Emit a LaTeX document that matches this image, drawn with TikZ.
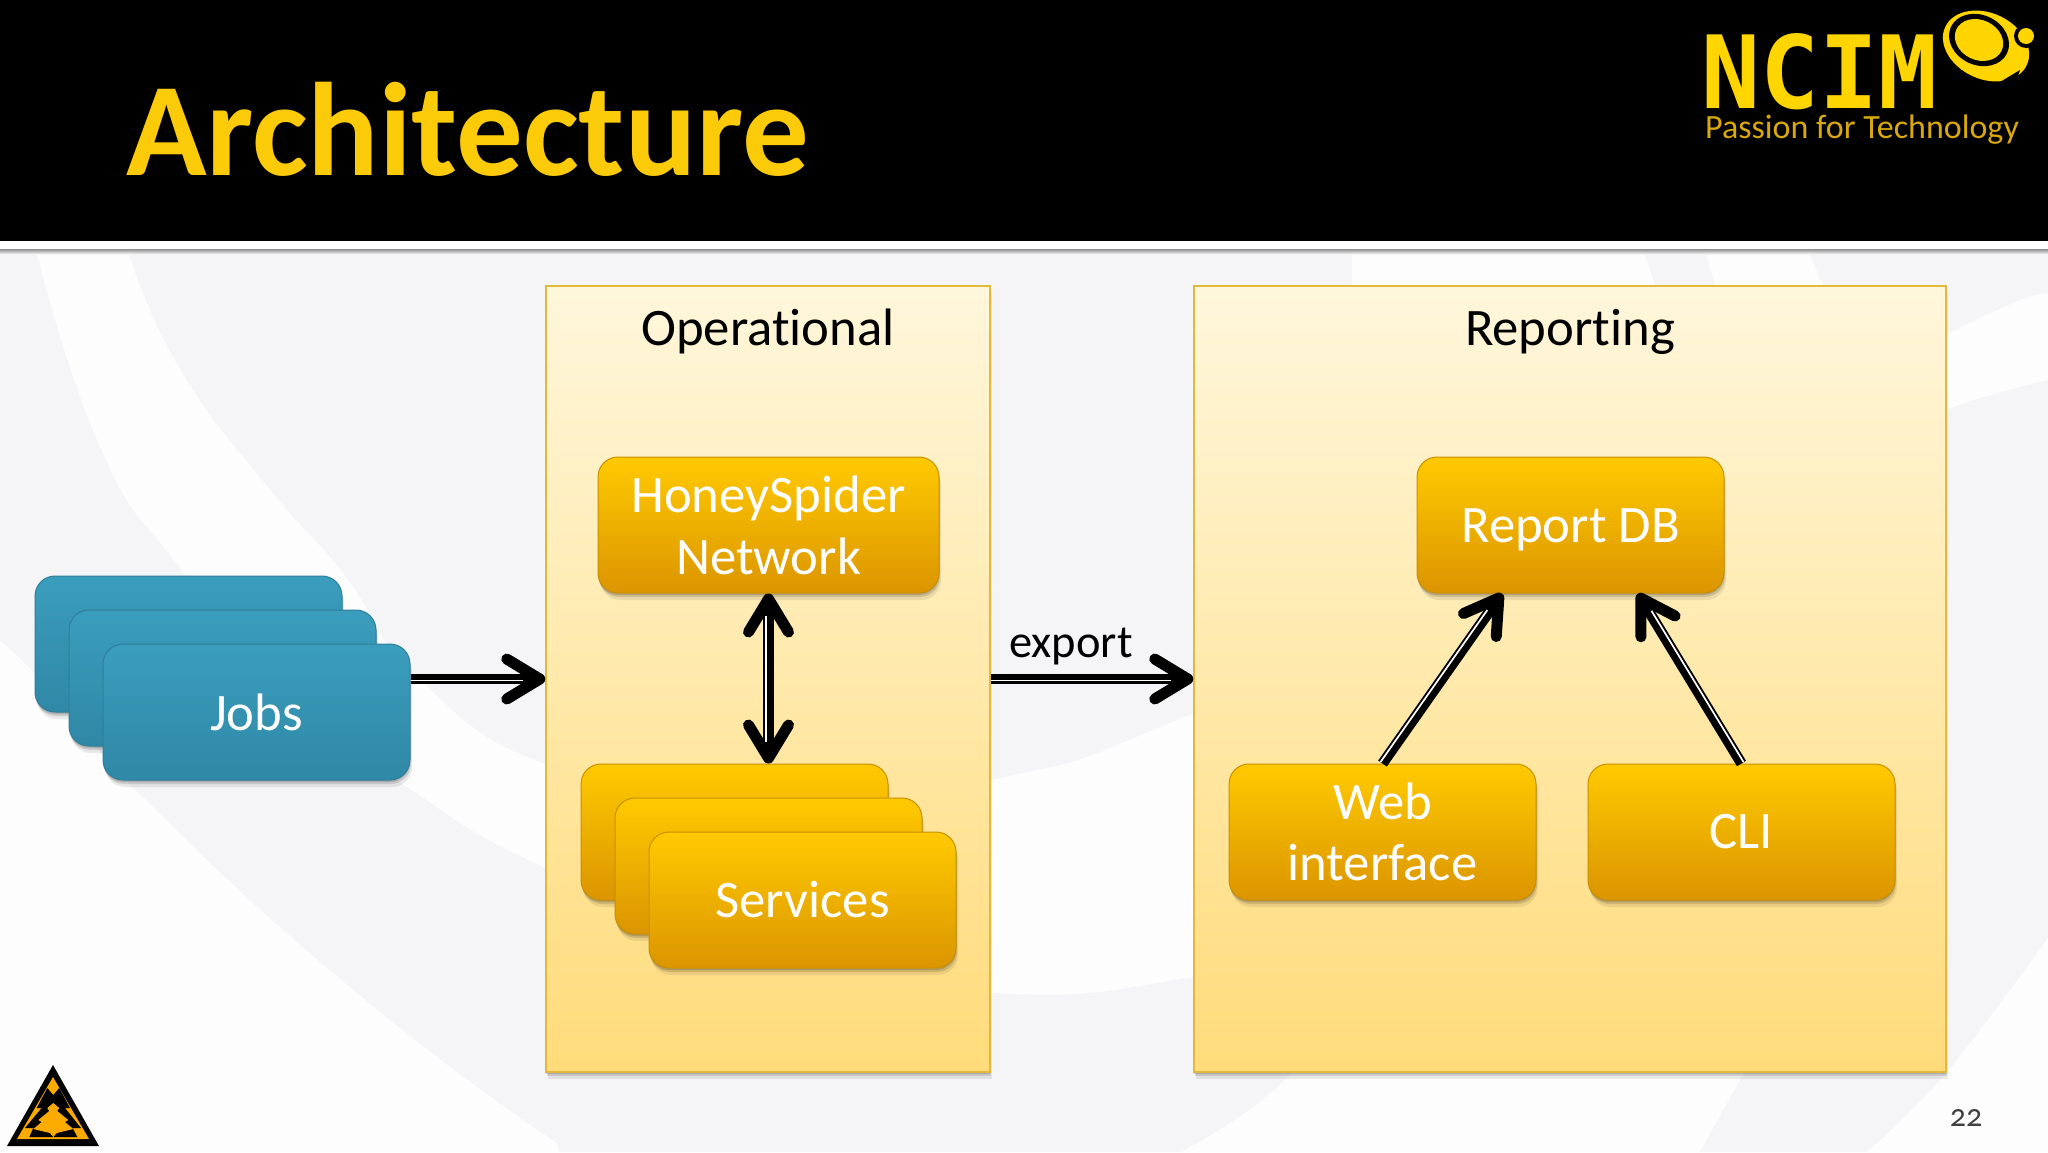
\documentclass[tikz,border=0pt]{standalone}
\usepackage{fontspec}
\usepackage{graphicx}
\usetikzlibrary{arrows.meta,shadows,calc}
\setmainfont{Carlito}[Ligatures={NoCommon}]
\newfontfamily\logofont{DejaVu Sans Mono}
\definecolor{paper}{HTML}{FDFDFE}
\definecolor{ground}{HTML}{F5F4F6}
\definecolor{headline}{HTML}{8F8F8F}
\definecolor{titlegold}{HTML}{FBCB0A}
\definecolor{logogold}{HTML}{FFD500}
\definecolor{taggold}{HTML}{D8A80C}
\definecolor{warn}{HTML}{FBAA00}
\definecolor{panelline}{HTML}{E3B93C}
\definecolor{paneltop}{HTML}{FFF7DC}
\definecolor{panelbot}{HTML}{FFDB7A}
\definecolor{orline}{HTML}{C98F00}
\definecolor{ortop}{HTML}{FFCA00}
\definecolor{ormid}{HTML}{F5AB00}
\definecolor{orbot}{HTML}{DB9500}
\definecolor{blline}{HTML}{2E7F9B}
\definecolor{bltop}{HTML}{3B9DBD}
\definecolor{blmid}{HTML}{3999B8}
\definecolor{blbot}{HTML}{2F88A6}
\newcommand{\fs}[1]{\fontsize{#1}{#1}\selectfont}
\tikzset{
  softshadow/.style={
    drop shadow={shadow xshift=0pt,shadow yshift=-2pt,opacity=.14,fill=black},
    drop shadow={shadow xshift=1pt,shadow yshift=-4pt,opacity=.12,fill=black},
    drop shadow={shadow xshift=2pt,shadow yshift=-7pt,opacity=.08,fill=black}},
  panel/.style={softshadow,draw=panelline,line width=1.5pt,top color=paneltop,bottom color=panelbot,inner sep=0pt},
  blk/.style 2 args={softshadow,rounded corners=20pt,line width=1pt,inner sep=0pt,align=center,
    text=white,font=\fs{52.7},minimum width=#1,minimum height=#2},
  orangebox/.style 2 args={blk={#1}{#2},draw=orline,top color=ortop,middle color=ormid,bottom color=orbot},
  bluebox/.style 2 args={blk={#1}{#2},draw=blline,top color=bltop,middle color=blmid,bottom color=blbot},
  label/.style={text=black,inner sep=0pt,font=\fs{52.7}},
  barb/.tip={Straight Barb[length=33pt,width=40pt,line width=11pt,round]},
  conn/.style={line width=10.5pt,draw=black,-barb},
  conn2/.style={line width=10.5pt,draw=black,barb-barb},
  gap/.style={line width=1.7pt,draw=white},
  swath/.style={fill=ground,draw=none},
}
\begin{document}
\begin{tikzpicture}[x=1pt,y=-1pt]
\useasboundingbox (0,0) rectangle (2048,1152);
% ground
\fill[paper] (0,0) rectangle (2048,1152);
% left crescent sweeping under the boxes to the lower centre
\fill[swath] (0,245) -- (33,245)
  -- plot[smooth,tension=.9] coordinates {(36,250) (100,447) (179,567) (290,700) (407,787) (543,867) (760,955) (990,993) (1194,977) (1340,940)}
  -- plot[smooth,tension=.6] coordinates {(1340,940) (1290,1073) (1181,1152)}
  -- (559,1152)
  -- plot[smooth,tension=.9] coordinates {(557,1143) (357,993) (143,797) (60,700) (0,640)}
  -- cycle;
% upper central field
\fill[swath] (125,245) -- (2048,245) -- (2048,298)
  -- plot[smooth,tension=.9] coordinates {(2048,298) (1950,333) (1600,530) (1194,713) (990,780) (760,810) (560,770) (420,680) (343,573) (268,487) (179,367) (128,250)}
  -- cycle;
% right field
\fill[swath] (2048,380) -- (2048,938)
  -- plot[smooth,tension=.6] coordinates {(2048,938) (1946,1073) (1867,1152)}
  -- (1700,1152) -- (1744,1073) -- (1800,700)
  -- plot[smooth,tension=.6] coordinates {(1800,700) (1900,450) (1950,409) (2048,380)}
  -- cycle;
% white stripes visible above the Reporting panel
\fill[paper] (1352,245) -- (1642,245) -- (1660,300) -- (1352,300) -- cycle;
\fill[paper] (1703,245) -- (1805,245) -- (1830,300) -- (1720,300) -- cycle;
% header
\fill[white] (0,238) rectangle (2048,249);
\shade[top color=headline,bottom color=ground] (0,249) rectangle (2048,254);
\fill[black] (0,0) rectangle (2048,241);
\node[anchor=base west,inner sep=0pt,text=titlegold,font=\fs{133}\bfseries] (title) at (126,175) {Architecture};
% NCIM logo
\node[anchor=south west,inner sep=0pt,text=logogold] (ncim) at (1701,110) {\resizebox{236pt}{75pt}{\logofont\bfseries NCIM}};
\node[anchor=base west,inner sep=0pt,text=taggold,font=\fs{34}] (tag) at (1705,138) {Passion for Technology};
\fill[logogold,rotate around={-25:(1986,46)}] (1986,46) ellipse (45 and 33);
\fill[black,rotate around={-25:(1979,40)}] (1979,40) ellipse (31 and 25);
\fill[logogold,rotate around={-25:(1979,40)}] (1979,40) ellipse (25 and 20);
\fill[black] (2026,36) circle (12);
\fill[black] (2000,82) -- (2020,70) -- (2014,88) -- cycle;
\fill[logogold] (2026,36) circle (8);
% warning emblem
\fill[black] (53,1065) -- (99,1146) -- (7,1146) -- cycle;
\fill[warn] (53,1077) -- (89,1139) -- (17,1139) -- cycle;
\fill[black] (53.3,1095) -- (47.3,1088) -- (36.7,1108) -- (41.7,1108) -- (25,1128) -- (33.3,1128) -- (29.3,1137) -- (77.3,1137) -- (72.7,1128) -- (81,1128) -- (65,1108) -- (70,1108) -- (59.3,1088) -- cycle;
\fill[warn] (53.3,1103) -- (59.3,1108) -- (57.3,1111) -- (68.3,1120) -- (65,1122) -- (73.3,1129) -- (56.7,1133) -- (53.3,1137) -- (50,1133) -- (33.3,1129) -- (41.7,1122) -- (38.3,1120) -- (49.3,1111) -- (47.3,1108) -- cycle;
% jobs stack
\node[bluebox={307pt}{136pt}] (jobs1) at (188.5,644) {};
\node[bluebox={307pt}{136pt}] (jobs2) at (222.5,678) {};
\node[bluebox={307pt}{136pt}] (jobs3) at (256.5,712) {Jobs};
% panels
\node[panel,minimum width=444pt,minimum height=786pt] (op) at (768,679) {};
\node[panel,minimum width=752pt,minimum height=786pt] (rep) at (1570,679) {};
\node[label] (opl) at (768,331) {Operational};
\node[label] (repl) at (1570,332) {Reporting};
% operational boxes
\node[orangebox={341pt}{136pt},font=\fontsize{52.7}{62}\selectfont] (hsn) at (768.5,525) {HoneySpider\\Network};
\node[orangebox={307pt}{136pt}] (svc1) at (734.5,832) {};
\node[orangebox={307pt}{136pt}] (svc2) at (768.5,866) {};
\node[orangebox={307pt}{136pt}] (svc3) at (802.5,900) {Services};
% reporting boxes
\node[orangebox={307pt}{136pt}] (rdb) at (1570.5,525) {\smash{\raisebox{-17pt}{Report DB}}};
\node[orangebox={307pt}{136pt},font=\fontsize{52.7}{61}\selectfont] (web) at (1382.5,832) {Web\\interface};
\node[orangebox={307pt}{136pt}] (cli) at (1741.5,832) {CLI};
% connectors
\coordinate (rdbl) at ($(rdb.south)+(-68.5,0)$);
\coordinate (rdbr) at ($(rdb.south)+(67.5,0)$);
\coordinate (svctop) at (svc1.north -| hsn.south);
\draw[conn] (jobs3.east |- op.west) -- (op.west);
\draw[conn] (op.east) -- (rep.west);
\draw[conn2] (hsn.south) -- (svctop);
\draw[conn] (web.north) -- (rdbl);
\draw[conn] (cli.north) -- (rdbr);
\draw[gap,transform canvas={yshift=-1.5pt},shorten >=22pt] (jobs3.east |- op.west) -- (op.west);
\draw[gap,transform canvas={yshift=-1.5pt},shorten >=22pt] (op.east) -- (rep.west);
\draw[gap,transform canvas={xshift=-2.5pt},shorten >=22pt,shorten <=22pt] (hsn.south) -- (svctop);
\draw[gap,transform canvas={xshift=-2pt,yshift=1.5pt},shorten >=22pt] (web.north) -- (rdbl);
\draw[gap,transform canvas={xshift=2pt,yshift=1.5pt},shorten >=22pt] (cli.north) -- (rdbr);
\node[label,font=\fs{46.5}] (exp) at (1071,647) {export};
\node[inner sep=0pt,text=black!75,font=\fs{32}\addfontfeatures{Numbers=OldStyle}] (pg) at (1966,1118) {22};
\end{tikzpicture}
\end{document}
